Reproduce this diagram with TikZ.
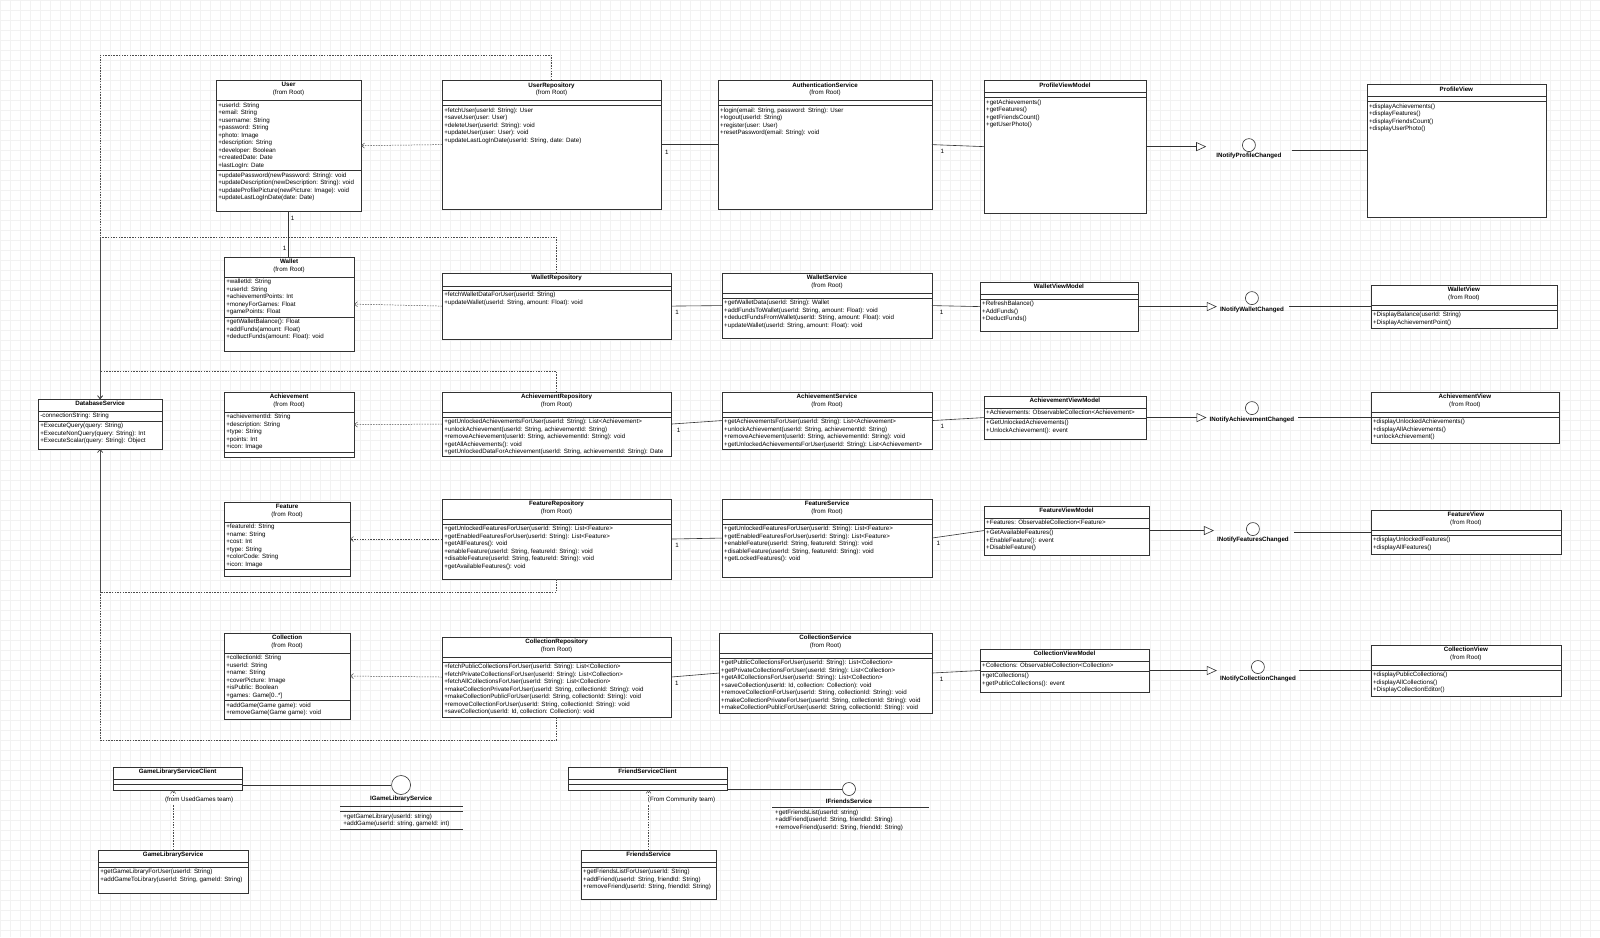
\documentclass[tikz,border=0pt]{standalone}
\usepackage{fontspec}
\setmainfont{Liberation Sans}
\usetikzlibrary{arrows.meta,calc,positioning}

\newcommand{\memberfont}{\fontsize{6.2}{7.5}\selectfont}
% class box: name, (x,y), width, height, header, header height, attributes, attribute height, methods
\newcommand{\umlclass}[9]{%
  \node[classbox, minimum width=#3, minimum height=#4] (#1) at #2 {};
  \node[classhead] at ($(#1.north)+(0,2.2)$) {#5};
  \draw[classline] ($(#1.north west)+(0,#6)$) -- ($(#1.north east)+(0,#6)$);
  \draw[classline] ($(#1.north west)+(0,#6+#8)$) -- ($(#1.north east)+(0,#6+#8)$);
  \node[classtext] at ($(#1.north west)+(2,#6+2.2)$) {#7};
  \node[classtext] at ($(#1.north west)+(2,#6+#8+2.2)$) {#9};
}

\tikzset{
  classbox/.style={draw=black!80, fill=white, line width=0.6pt, anchor=north west, inner sep=0pt, outer sep=0pt},
  classline/.style={draw=black!80, line width=0.5pt},
  classhead/.style={anchor=north, align=center, inner sep=0pt, font=\memberfont},
  classtext/.style={anchor=north west, align=left, inner sep=0pt, font=\memberfont},
  assoc/.style={draw=black!80, line width=0.6pt},
  dep/.style={draw=black!70, line width=0.5pt, dash pattern=on 1.5pt off 1.2pt, -{Straight Barb[length=3pt,width=5pt]}},
  realize/.style={assoc, shorten >=5pt, -{Triangle[open, length=10pt, width=9pt, fill=white]}},
  iface/.style={circle, draw=black!80, fill=white, line width=0.6pt, inner sep=0pt, minimum size=13},
  ilabel/.style={font=\memberfont\bfseries, inner sep=0pt},
  mult/.style={font=\memberfont, inner sep=1pt},
  teamlabel/.style={font=\memberfont, fill=white, inner sep=1pt},
}

\begin{document}
\begin{tikzpicture}[x=1pt,y=1pt,yscale=-1]
%background and grid
\fill[white] (0,0) rectangle (1600,937);
\draw[black!5, line width=0.3pt, step=10] (0,0) grid (1600,937);
\path[use as bounding box] (0,0) rectangle (1600,937);

%Row: User
\umlclass{user}{(216,80)}{145}{131}{{\bfseries User}\\(from Root)}{20}
  {+userId: String\\+email: String\\+username: String\\+password: String\\+photo: Image\\+description: String\\+developer: Boolean\\+createdDate: Date\\+lastLogIn: Date}{70}
  {+updatePassword(newPassword: String): void\\+updateDescription(newDescription: String): void\\+updateProfilePicture(newPicture: Image): void\\+updateLastLogInDate(date: Date)}
\umlclass{urep}{(442,80)}{219}{129}{{\bfseries UserRepository}\\(from Root)}{20}{}{5}
  {+fetchUser(userId: String): User\\+saveUser(user: User)\\+deleteUser(userId: String): void\\+updateUser(user: User): void\\+updateLastLogInDate(userId: String, date: Date)}
\umlclass{auth}{(718,80)}{214}{129}{{\bfseries AuthenticationService}\\(from Root)}{20}{}{5}
  {+login(email: String, password: String): User\\+logout(userId: String)\\+register(user: User)\\+resetPassword(email: String): void}
\umlclass{pvm}{(984,80)}{162}{133}{\bfseries ProfileViewModel}{12}{}{5}
  {+getAchievements()\\+getFeatures()\\+getFriendsCount()\\+getUserPhoto()}
\umlclass{pview}{(1367,84)}{179}{133}{\bfseries ProfileView}{12}{}{5}
  {+displayAchievements()\\+displayFeatures()\\+displayFriendsCount()\\+displayUserPhoto()}

%Row: Wallet
\umlclass{wallet}{(224,257)}{130}{94}{{\bfseries Wallet}\\(from Root)}{20}
  {+walletId: String\\+userId: String\\+achievementPoints: Int\\+moneyForGames: Float\\+gamePoints: Float}{40}
  {+getWalletBalance(): Float\\+addFunds(amount: Float)\\+deductFunds(amount: Float): void}
\umlclass{wrep}{(442,273)}{229}{66}{\bfseries WalletRepository}{13}{}{4}
  {+fetchWalletDataForUser(userId: String)\\+updateWallet(userId: String, amount: Float): void}
\umlclass{wserv}{(722,273)}{210}{65}{{\bfseries WalletService}\\(from Root)}{20}{}{5}
  {+getWalletData(userId: String): Wallet\\+addFundsToWallet(userId: String, amount: Float): void\\+deductFundsFromWallet(userId: String, amount: Float): void\\+updateWallet(userId: String, amount: Float): void}
\umlclass{wvm}{(980,282)}{158}{49}{\bfseries WalletViewModel}{12}{}{5}
  {+RefreshBalance()\\+AddFunds()\\+DeductFunds()}
\umlclass{wview}{(1371,285)}{186}{43}{{\bfseries WalletView}\\(from Root)}{20}{}{5}
  {+DisplayBalance(userId: String)\\+DisplayAchievementPoint()}

%Database
\umlclass{db}{(38,399)}{124}{50}{\bfseries DatabaseService}{12}
  {-connectionString: String}{10}
  {+ExecuteQuery(query: String)\\+ExecuteNonQuery(query: String): Int\\+ExecuteScalar(query: String): Object}

%Row: Achievement
\umlclass{ach}{(224,392)}{130}{65}{{\bfseries Achievement}\\(from Root)}{20}
  {+achievementId: String\\+description: String\\+type: String\\+points: Int\\+icon: Image}{40}{}
\umlclass{arep}{(442,392)}{229}{64}{{\bfseries AchievementRepository}\\(from Root)}{20}{}{5}
  {+getUnlockedAchievementsForUser(userId: String): List<Achievement>\\+unlockAchievement(userId: String, achievementId: String)\\+removeAchievement(userId: String, achievementId: String): void\\+getAllAchievements(): void\\+getUnlockedDataForAchievement(userId: String, achievementId: String): Date}
\umlclass{aserv}{(722,392)}{210}{57}{{\bfseries AchievementService}\\(from Root)}{20}{}{5}
  {+getAchievementsForUser(userId: String): List<Achievement>\\+unlockAchievement(userId: String, achievementId: String)\\+removeAchievement(userId: String, achievementId: String): void\\+getUnlockedAchievementsForUser(userId: String): List<Achievement>}
\umlclass{avm}{(984,396)}{162}{43}{\bfseries AchievementViewModel}{12}
  {+Achievements: ObservableCollection<Achievement>}{10}
  {+GetUnlockedAchievements()\\+UnlockAchievement(): event}
\umlclass{aview}{(1371,392)}{188}{51}{{\bfseries AchievementView}\\(from Root)}{20}{}{5}
  {+displayUnlockedAchievements()\\+displayAllAchievements()\\+unlockAchievement()}

%Row: Feature
\umlclass{feat}{(224,502)}{126}{74}{{\bfseries Feature}\\(from Root)}{20}
  {+featureId: String\\+name: String\\+cost: Int\\+type: String\\+colorCode: String\\+icon: Image}{47.5}{}
\umlclass{frep}{(442,499)}{229}{80}{{\bfseries FeatureRepository}\\(from Root)}{20}{}{5}
  {+getUnlockedFeaturesForUser(userId: String): List<Feature>\\+getEnabledFeaturesForUser(userId: String): List<Feature>\\+getAllFeatures(): void\\+enableFeature(userId: String, featureId: String): void\\+disableFeature(userId: String, featureId: String): void\\+getAvailableFeatures(): void}
\umlclass{fserv}{(722,499)}{210}{78}{{\bfseries FeatureService}\\(from Root)}{20}{}{5}
  {+getUnlockedFeaturesForUser(userId: String): List<Feature>\\+getEnabledFeaturesForUser(userId: String): List<Feature>\\+enableFeature(userId: String, featureId: String): void\\+disableFeature(userId: String, featureId: String): void\\+getLockedFeatures(): void}
\umlclass{fvm}{(984,506)}{165}{49}{\bfseries FeatureViewModel}{12}
  {+Features: ObservableCollection<Feature>}{10}
  {+GetAvailableFeatures()\\+EnableFeature(): event\\+DisableFeature()}
\umlclass{fview}{(1371,510)}{190}{44}{{\bfseries FeatureView}\\(from Root)}{20}{}{5}
  {+displayUnlockedFeatures()\\+displayAllFeatures()}

%Row: Collection
\umlclass{coll}{(224,633)}{126}{86}{{\bfseries Collection}\\(from Root)}{20}
  {+collectionId: String\\+userId: String\\+name: String\\+coverPicture: Image\\+isPublic: Boolean\\+games: Game[0..*]}{47.5}
  {+addGame(Game game): void\\+removeGame(Game game): void}
\umlclass{crep}{(442,637)}{229}{80}{{\bfseries CollectionRepository}\\(from Root)}{20}{}{5}
  {+fetchPublicCollectionsForUser(userId: String): List<Collection>\\+fetchPrivateCollectionsForUser(userId: String): List<Collection>\\+fetchAllCollectionsForUser(userId: String): List<Collection>\\+makeCollectionPrivateForUser(userId: String, collectionId: String): void\\+makeCollectionPublicForUser(userId: String, collectionId: String): void\\+removeCollectionForUser(userId: String, collectionId: String): void\\+saveCollection(userId: Id, collection: Collection): void}
\umlclass{cserv}{(719,633)}{213}{80}{{\bfseries CollectionService}\\(from Root)}{20}{}{5}
  {+getPublicCollectionsForUser(userId: String): List<Collection>\\+getPrivateCollectionsForUser(userId: String): List<Collection>\\+getAllCollectionsForUser(userId: String): List<Collection>\\+saveCollection(userId: Id, collection: Collection): void\\+removeCollectionForUser(userId: String, collectionId: String): void\\+makeCollectionPrivateForUser(userId: String, collectionId: String): void\\+makeCollectionPublicForUser(userId: String, collectionId: String): void}
\umlclass{cvm}{(980,649)}{169}{43}{\bfseries CollectionViewModel}{12}
  {+Collections: ObservableCollection<Collection>}{10}
  {+getCollections()\\+getPublicCollections(): event}
\umlclass{cview}{(1371,645)}{190}{51}{{\bfseries CollectionView}\\(from Root)}{20}{}{5}
  {+displayPublicCollections()\\+displayAllCollections()\\+DisplayCollectionEditor()}

%Bottom: service clients
\umlclass{glsc}{(113,767)}{129}{23}{\bfseries GameLibraryServiceClient}{12}{}{5}{}
\umlclass{gls}{(98,850)}{150}{43}{\bfseries GameLibraryService}{12}{}{5}
  {+getGameLibraryForUser(userId: String)\\+addGameToLibrary(userId: String, gameId: String)}
\umlclass{fsc}{(568,767)}{159}{23}{\bfseries FriendServiceClient}{12}{}{5}{}
\umlclass{fs}{(581,850)}{135}{49}{\bfseries FriendsService}{12}{}{5}
  {+getFriendsListForUser(userId: String)\\+addFriend(userId: String, friendId: String)\\+removeFriend(userId: String, friendId: String)}

%Interfaces
\node[iface] (ipc) at (1249,145) {};
\node[ilabel] (ipl) at (1249,156) {INotifyProfileChanged};
\node[iface] (iwc) at (1252,298) {};
\node[ilabel] (iwl) at (1252,310) {INotifyWalletChanged};
\node[iface] (iac) at (1252,408) {};
\node[ilabel] (ial) at (1252,420) {INotifyAchievementChanged};
\node[iface] (ifc) at (1253,529) {};
\node[ilabel] (ifl) at (1253,540) {INotifyFeaturesChanged};
\node[iface] (icc) at (1258,667) {};
\node[ilabel] (icl) at (1258,679) {INotifyCollectionChanged};

\node[iface, minimum size=19] (igl) at (401,785) {};
\node[ilabel] (igll) at (401,799) {IGameLibraryService};
\draw[classline] (340,806) -- (463,806);
\draw[classline] (340,811) -- (463,811);
\draw[classline] (340,829) -- (463,829);
\node[classtext] at (343,813.5) {+getGameLibrary(userId: string)\\+addGame(userId: string, gameId: int)};

\node[iface] (ifs) at (849,789) {};
\node[ilabel] (ifsl) at (849,801) {IFriendsService};
\draw[classline] (772,807) -- (929,807);
\node[classtext] at (775,809.5) {+getFriendsList(userId: string)\\+addFriend(userId: String, friendId: String)\\+removeFriend(userId: String, friendId: String)};

%Repository -> entity dependencies
\draw[dep] (urep.west) -- (user.east);
\draw[dep] (wrep.west) -- (wallet.east);
\draw[dep] (arep.west) -- (ach.east);
\draw[dep] (frep.west) -- (feat.east);
\draw[dep] (crep.west) -- (coll.east);

%Repository -> database dependencies
\draw[dep] (urep.north) -- ++(0,-25) -| (db.north);
\draw[dep] (wrep.north) -- ++(0,-36) -| (db.north);
\draw[dep] (arep.north) -- ++(0,-21) -| (db.north);
\draw[dep] (frep.south) -- ++(0,13) -| (db.south);
\draw[dep] (crep.south) -- ++(0,23) -| (db.south);

%User - Wallet
\draw[assoc] (user.south) -- node[mult, pos=0.15, right=1pt]{1} node[mult, pos=0.8, left=1pt]{1} (user.south |- wallet.north);

%Repository - service - view model
\draw[assoc] (urep.east) -- node[mult, pos=0.1, below=4pt]{1} (auth.west);
\draw[assoc] (auth.east) -- node[mult, pos=0.2, below=3pt]{1} (pvm.west);
\draw[assoc] (wrep.east) -- node[mult, pos=0.12, below=3pt]{1} (wserv.west);
\draw[assoc] (wserv.east) -- node[mult, pos=0.2, below=3pt]{1} (wvm.west);
\draw[assoc] (arep.east) -- node[mult, pos=0.15, below=3pt]{1} (aserv.west);
\draw[assoc] (aserv.east) -- node[mult, pos=0.2, below=3pt]{1} (avm.west);
\draw[assoc] (frep.east) -- node[mult, pos=0.12, below=3pt]{1} (fserv.west);
\draw[assoc] (fserv.east) -- node[mult, pos=0.12, below=3pt]{1} (fvm.west);
\draw[assoc] (crep.east) -- node[mult, pos=0.12, below=3pt]{1} (cserv.west);
\draw[assoc] (cserv.east) -- node[mult, pos=0.2, below=3pt]{1} (cvm.west);

%View model -> interface, interface - view
\draw[realize, shorten >=10pt] (pvm.east) -- (pvm.east -| ipl.west);
\draw[assoc, shorten <=10pt] (ipl.east |- pview.west) -- (pview.west);
\draw[realize, shorten >=3pt] (wvm.east) -- (wvm.east -| iwl.west);
\draw[assoc, shorten <=5pt] (iwl.east |- wview.west) -- (wview.west);
\draw[realize, shorten >=3pt] (avm.east) -- (avm.east -| ial.west);
\draw[assoc, shorten <=4pt] (ial.east |- aview.west) -- (aview.west);
\draw[realize, shorten >=3pt] (fvm.east) -- (fvm.east -| ifl.west);
\draw[assoc, shorten <=5pt] (ifl.east |- fview.west) -- (fview.west);
\draw[realize, shorten >=3pt] (cvm.east) -- (cvm.east -| icl.west);
\draw[assoc, shorten <=3pt] (icl.east |- cview.west) -- (cview.west);

%Clients
\draw[assoc] (glsc.east |- igl.west) -- (igl.west);
\draw[assoc] (fsc.east |- ifs.west) -- (ifs.west);
\draw[dep] (gls.north) -- node[teamlabel, pos=0.83, xshift=26]{(from UsedGames team)} (gls.north |- glsc.south);
\draw[dep] (fs.north) -- node[teamlabel, pos=0.83, xshift=33]{(From Community team)} (fs.north |- fsc.south);

\end{tikzpicture}
\end{document}
